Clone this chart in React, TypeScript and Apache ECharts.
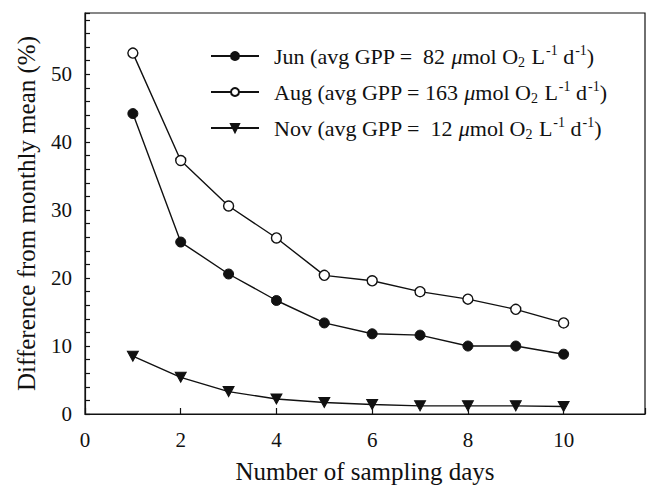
import React, { useEffect, useRef } from "react";
import * as echarts from "echarts";

const days = [1, 2, 3, 4, 5, 6, 7, 8, 9, 10];
const junValues = [44.2, 25.3, 20.6, 16.7, 13.4, 11.8, 11.6, 10.0, 10.0, 8.8];
const augValues = [53.1, 37.3, 30.6, 25.9, 20.4, 19.6, 18.0, 16.9, 15.4, 13.4];
const novValues = [8.5, 5.4, 3.3, 2.2, 1.7, 1.4, 1.2, 1.2, 1.2, 1.1];
const seriesNames = ["Jun", "Aug", "Nov"];
const avgGPP = [" 82", "163", " 12"];
const xLabelMaxShown = 10;
const yLabelStep = 10;

const FONT = "Liberation Serif";
const INK = "#111";

export default function App() {
  const ref = useRef<HTMLDivElement>(null);
  useEffect(() => {
    if (!ref.current) return;
    const chart = echarts.init(ref.current, null, { renderer: "svg" });
    const pairs = (vals: number[]) => days.map((d, i) => [d, vals[i]]);
    const baseSeries = {
      type: "line",
      lineStyle: { color: INK, width: 1.4 },
      symbolSize: 10,
      z: 3,
    };
    chart.setOption({
      animation: false,
      backgroundColor: "#fff",
      textStyle: { fontFamily: FONT, color: INK },
      grid: {
        left: 85,
        top: 13,
        right: 0,
        bottom: 79,
        show: true,
        borderColor: INK,
        borderWidth: 1.2,
        backgroundColor: "transparent",
      },
      xAxis: {
        type: "value",
        min: 0,
        max: 11.7,
        interval: 2,
        name: "Number of sampling days",
        nameLocation: "middle",
        nameGap: 45,
        nameTextStyle: { fontFamily: FONT, fontSize: 25, color: INK },
        axisLine: { show: true, lineStyle: { color: INK, width: 1.2 } },
        axisTick: { show: true, inside: true, length: 6, lineStyle: { color: INK, width: 1.2 } },
        axisLabel: {
          fontFamily: FONT,
          fontSize: 21,
          color: INK,
          margin: 15,
          formatter: (v: number) => (v > xLabelMaxShown ? "" : String(v)),
        },
        splitLine: { show: false },
      },
      yAxis: {
        type: "value",
        min: 0,
        max: 59,
        interval: 2,
        name: "Difference from monthly mean (%)",
        nameLocation: "middle",
        nameGap: 46,
        nameTextStyle: { fontFamily: FONT, fontSize: 25, color: INK },
        axisLine: { show: true, lineStyle: { color: INK, width: 1.2 } },
        axisTick: { show: true, inside: true, length: 5, lineStyle: { color: INK, width: 1.2 } },
        axisLabel: {
          fontFamily: FONT,
          fontSize: 21,
          color: INK,
          margin: 13,
          formatter: (v: number) => (v % yLabelStep === 0 ? String(v) : ""),
        },
        splitLine: { show: false },
      },
      legend: {
        orient: "vertical",
        left: 210,
        top: 43,
        padding: 0,
        itemWidth: 48,
        itemHeight: 10,
        itemGap: 10,
        data: seriesNames,
        formatter: (name: string) => {
          const i = seriesNames.indexOf(name);
          return `${name} (avg GPP = ${avgGPP[i]} {mu|\u03bc}mol O{sub|2} L{sup|-1} d{sup|-1})`;
        },
        textStyle: {
          fontFamily: FONT,
          fontSize: 22,
          color: INK,
          lineHeight: 26,
          padding: [0, 0, 0, 10],
          rich: {
            mu: { fontFamily: FONT, fontSize: 22, fontStyle: "italic", color: INK, lineHeight: 26 },
            sub: { fontFamily: FONT, fontSize: 14, color: INK, verticalAlign: "bottom", lineHeight: 14, padding: [0, 1, 0, 0] },
            sup: { fontFamily: FONT, fontSize: 14, color: INK, verticalAlign: "top", lineHeight: 14, padding: [0, 0, 0, 1] },
          },
        },
      },
      series: [
        {
          ...baseSeries,
          name: seriesNames[0],
          data: pairs(junValues),
          symbol: "circle",
          itemStyle: { color: INK, borderColor: INK, borderWidth: 1 },
        },
        {
          ...baseSeries,
          name: seriesNames[1],
          data: pairs(augValues),
          symbol: "circle",
          itemStyle: { color: "#fff", borderColor: INK, borderWidth: 1.4 },
        },
        {
          ...baseSeries,
          name: seriesNames[2],
          data: pairs(novValues),
          symbol: "triangle",
          symbolRotate: 180,
          symbolSize: [11, 10],
          itemStyle: { color: INK, borderColor: INK, borderWidth: 1 },
        },
      ],
    });
    return () => chart.dispose();
  }, []);
  return (
    <div
      ref={ref}
      style={{ position: "fixed", left: 0, top: 0, width: 648, height: 493, background: "#fff" }}
    />
  );
}
